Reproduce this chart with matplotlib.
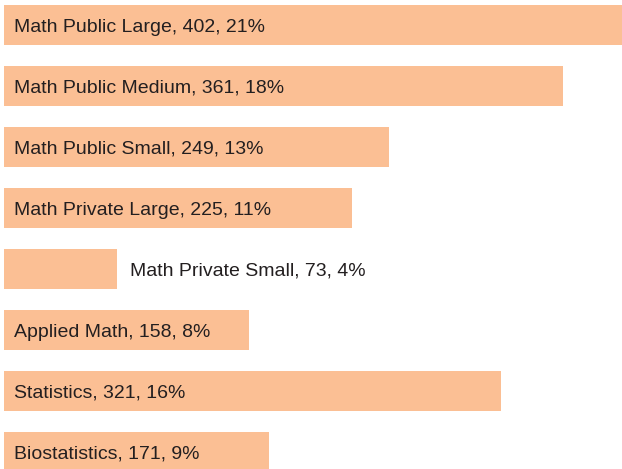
import matplotlib.pyplot as plt
import numpy as np

categories = ["Math Public Large", "Math Public Medium", "Math Public Small",
              "Math Private Large", "Math Private Small", "Applied Math",
              "Statistics", "Biostatistics"]
counts = [402, 361, 249, 225, 73, 158, 321, 171]
percents = [21, 18, 13, 11, 4, 8, 16, 9]

bar_color = "#FBBF94"
text_color = "#231F20"

plt.rcParams['font.family'] = ['Liberation Sans', 'DejaVu Sans']

fig = plt.figure(figsize=(6.22, 4.69), dpi=100)
ax = fig.add_axes([0, 0, 1, 1])

px = 1.548  # pixels per unit
pos = np.arange(len(categories))
ax.barh(pos, counts, height=40 / 61, color=bar_color, left=0)

for i, (cat, n, p) in enumerate(zip(categories, counts, percents)):
    label = "{}, {}, {}%".format(cat, n, p)
    if n > 100:
        ax.annotate(label, xy=(0, i), xytext=(7.5, -1.5), textcoords='offset points',
                    ha='left', va='center', fontsize=14, color=text_color)
    else:
        ax.annotate(label, xy=(n, i), xytext=(9, -1.5), textcoords='offset points',
                    ha='left', va='center', fontsize=14, color=text_color)

ax.set_xlim(-4 / px, (622 - 4) / px)
ax.set_ylim((469 - 25) / 61, -25 / 61)
ax.axis('off')

plt.savefig('out.png', dpi=100)
